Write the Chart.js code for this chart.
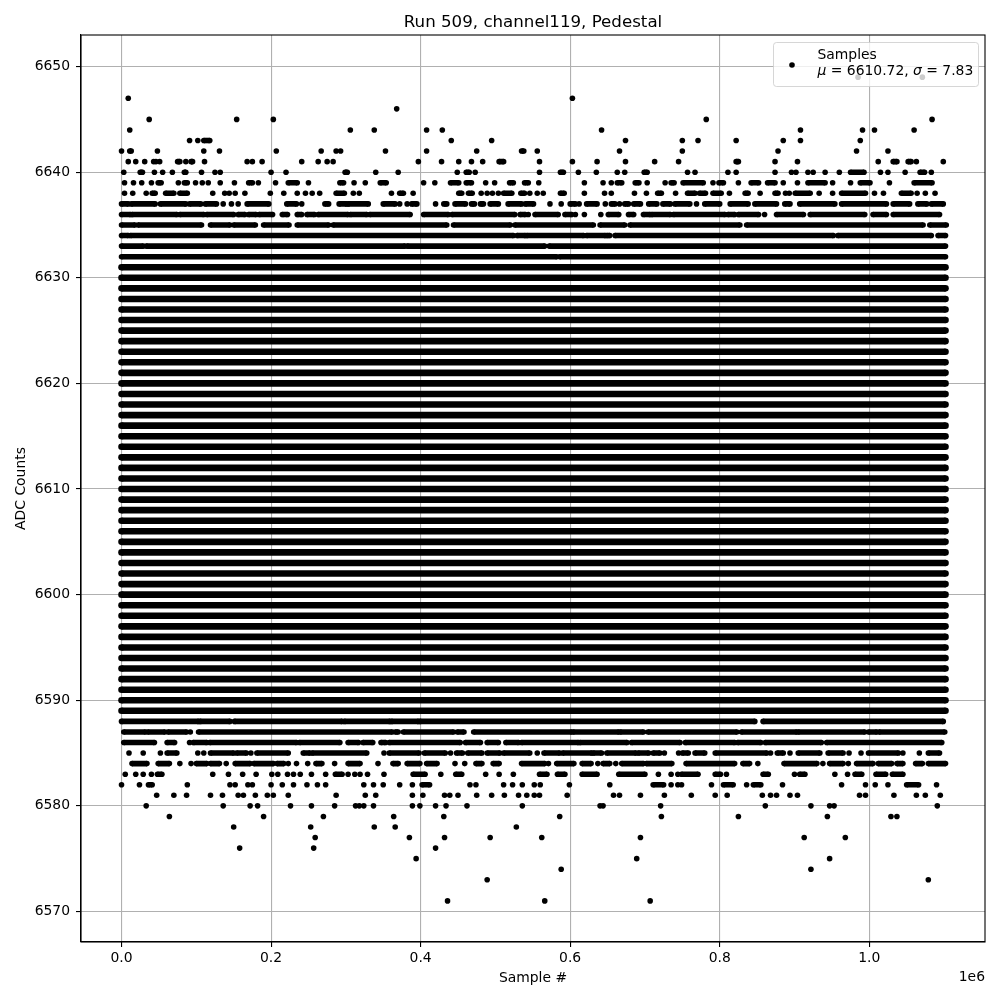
<!DOCTYPE html>
<html>
<head>
<meta charset="utf-8">
<title>Run 509, channel119, Pedestal</title>
<style>
    html, body { margin: 0; padding: 0; background: #fff; }
    canvas { display: block; }
</style>
<script src="https://cdn.jsdelivr.net/npm/chart.js@4/dist/chart.umd.min.js"></script>
</head>
<body>
<canvas id="pedestalChart" width="1000" height="1000"></canvas>
<script>
// a plain number is one point, a [start, end] pair is a run of touching points.
const yTicks = [6570, 6580, 6590, 6600, 6610, 6620, 6630, 6640, 6650];
const xTicks = [0, 200000, 400000, 600000, 800000, 1000000];
const legendLines = ['Samples', 'μ = 6610.72, σ = 7.83'];

const row6649 = [985, 1071];
const row6647 = [9, 603];
const row6646 = [368];
const row6645 = [37, 154, 203, 782, 1084];
const row6644 = [11, 306, 338, 408, 429, 642, 908, 991, 1007, 1060];
const row6643 = [91, 102, [110, 118], 441, 495, 674, 750, 771, 822, 885, 908, 988];
const row6642 = [0, [11, 13], 48, 110, 131, 207, 267, 287, 293, 353, 408, 475, [535, 538], 556, 666, 750, 878, 983, 1025];
const row6641 = [9, 19, 31, 43, 46, 51, [75, 78], 86, [93, 95], 111, 168, 175, 188, 241, 263, 275, 283, 397, 428, 451, 468, 483, [505, 511], 559, 603, 636, 674, 713, 745, [822, 825], 874, 904, 1012, [1032, 1037], [1052, 1056], 1063, 1099];
const row6640 = [3, [25, 28], 44, 55, 68, [84, 86], 107, 125, 132, 200, 220, [299, 302], 340, 370, 449, [461, 465], 473, 559, [587, 591], 611, 635, 663, 673, [699, 703], 757, 767, 811, 822, 874, 896, 902, 918, 925, 941, 960, [975, 993], 1015, 1025, 1048, [1068, 1074], 1083];
const row6639 = [4, 16, 27, 40, [49, 53], 76, [84, 88], 99, 108, 116, 132, 151, [170, 175], 183, 206, [223, 235], 250, [292, 297], 311, 326, [346, 354], 404, 419, [440, 451], [461, 468], 487, 499, [519, 524], [539, 544], 558, 619, 644, 655, [663, 669], [687, 692], 703, 727, [735, 739], [751, 778], 791, [799, 805], 825, [842, 852], [864, 874], 885, 904, [918, 941], 951, 975, [988, 1001], 1027, [1060, 1084]];
const row6638 = [4, 15, 33, [41, 45], [59, 70], [78, 88], 122, 138, 144, 152, 165, 199, 217, 235, 246, 255, 265, [287, 298], 310, 318, 361, [372, 377], 390, [451, 455], [464, 469], 481, 489, 496, 504, [511, 522], [534, 539], 546, 556, 564, [587, 592], 619, 646, 655, 686, 702, [717, 722], 741, [757, 767], [773, 781], [791, 802], 813, [834, 838], 854, [874, 878], 888, 893, [901, 921], 933, 951, [963, 995], 1007, 1019, [1043, 1056], 1064, 1075, 1088];
const row6637 = [[0, 9], [13, 45], [52, 86], [91, 106], [112, 127], 136, 147, 156, [168, 197], [221, 234], 241, [272, 277], [291, 301], [303, 330], [350, 366], 372, 382, [388, 395], 420, [431, 435], [446, 460], [468, 472], [480, 484], [493, 504], [517, 535], [540, 551], 573, 588, [600, 607], 612, [622, 636], 647, [655, 660], 666, [673, 678], [685, 694], [705, 716], [724, 734], [740, 760], 769, [780, 800], [814, 838], [847, 876], [887, 894], [907, 954], [963, 1023], [1032, 1054], [1065, 1077], [1083, 1099]];
const row6636 = [[0, 12], [14, 74], [78, 110], [114, 150], [156, 165], [170, 180], [184, 202], [215, 222], [235, 241], [248, 258], [263, 303], [306, 328], [332, 386], [404, 437], [442, 526], [533, 540], 544, [553, 584], [593, 602], 607, 619, 641, [651, 665], [678, 685], [698, 707], [709, 734], [738, 807], [811, 820], [825, 852], 860, [876, 912], [921, 994], [1005, 1023], [1032, 1094]];
const row6635 = [[0, 18], [22, 107], [119, 145], [150, 179], [190, 224], [235, 277], [283, 435], [444, 520], [526, 631], [640, 673], [680, 827], [836, 1072], [1081, 1103]];
const row6634 = [[0, 9], [12, 524], [529, 540], [542, 618], [622, 647], [649, 653], [660, 952], [958, 1083], [1092, 1102]];
const row6633 = [[0, 29], [33, 379], [382, 566], [572, 1102]];
const row6632 = [[0, 582], [586, 1102]];
const row6588 = [[0, 103], [105, 145], [151, 295], [298, 359], [361, 397], [399, 847], [858, 1099]];
const row6587 = [[3, 32], [35, 58], [62, 87], 92, [103, 362], [366, 370], [377, 444], [449, 458], [471, 602], [604, 665], [667, 698], [704, 823], [829, 903], [905, 994], [999, 1010], [1013, 1101]];
const row6586 = [[3, 44], [61, 71], 91, [96, 114], [118, 234], [238, 292], [303, 317], [323, 336], [347, 353], [358, 453], [460, 480], [489, 504], [514, 531], [535, 611], [613, 676], [682, 747], [754, 820], [824, 855], [861, 936], [943, 1097]];
const row6585 = [10, 29, 52, [61, 74], 102, 110, [119, 150], [154, 167], 173, [181, 223], [243, 252], [255, 328], 351, [358, 398], [405, 433], 440, [448, 456], [463, 482], [489, 506], [511, 546], 556, [565, 586], [590, 629], [631, 642], [649, 688], [691, 705], [711, 720], 726, 745, [750, 758], [767, 780], [794, 863], 868, [877, 885], 894, [905, 934], [945, 965], 973, 989, [999, 1039], 1045, 1067, [1079, 1094]];
const row6584 = [[14, 34], [49, 64], 78, 93, [100, 114], [119, 131], 140, [152, 172], [177, 203], [208, 217], 223, 234, 249, [260, 268], 285, [303, 319], 343, [363, 370], [382, 399], [408, 422], 446, 459, [474, 482], [497, 505], [535, 566], 571, [582, 605], [616, 628], 637, [644, 653], 661, [669, 698], [702, 736], [755, 820], [831, 840], 851, [886, 930], 938, [947, 965], 972, [983, 1005], [1012, 1030], [1037, 1045], [1062, 1071], [1079, 1102]];
const row6583 = [5, 19, 29, 40, [48, 54], 122, 143, 162, 180, 201, 209, 222, 230, 239, 254, 273, [286, 295], 303, 312, 319, 329, 351, [390, 406], 427, [447, 455], 487, 505, 524, [559, 569], [583, 593], [616, 636], [665, 700], 718, 735, 744, [749, 771], [794, 801], 809, [858, 865], 900, [907, 914], 954, 971, [981, 990], [1009, 1022], [1031, 1045]];
const row6582 = [0, 24, [36, 41], 88, 145, 152, 169, 175, 200, 215, 230, 248, 262, 273, 324, 337, 350, 372, 389, [402, 412], 466, 474, 511, 523, 536, 552, 560, 599, 653, [711, 725], 735, 744, 749, 789, [805, 818], 836, [845, 855], 884, 963, 995, 1008, 1025, [1050, 1066], 1090];
const row6581 = [47, 70, 87, 119, 135, 156, 163, 179, 195, 203, 223, 287, 326, 340, 389, 403, 432, 439, 450, 475, 495, 512, 531, 542, 552, 559, 596, 658, 666, 694, 726, 762, 794, 810, 857, 868, 876, 894, 904, 987, 995, 1033, 1063, 1075, 1095];
const row6580 = [33, 136, 172, 182, 226, 254, 285, 313, 318, 324, 337, 389, 399, 420, 434, 462, 536, 640, 644, 721, 861, 922, 947, 953, 1091];
const row6579 = [64, 190, 270, 364, 431, 586, 722, 825, 944, 1029, 1037];
const row6578 = [150, 253, 338, 366, 528];
const row6577 = [259, 385, 432, 493, 562, 694, 913, 968];
const row6576 = [158, 257, 420];
const row6575 = [394, 689, 947];
const row6574 = [588, 922];
const row6573 = [489, 1079];
const row6571 = [436, 566, 707];

// these rows run unbroken across the whole record
const solidLevels = [6589, 6590, 6591, 6592, 6593, 6594, 6595, 6596, 6597, 6598, 6599, 6600, 6601, 6602, 6603, 6604, 6605, 6606, 6607, 6608, 6609, 6610, 6611, 6612, 6613, 6614, 6615, 6616, 6617, 6618, 6619, 6620, 6621, 6622, 6623, 6624, 6625, 6626, 6627, 6628, 6629, 6630, 6631];
const solidRun = [[0, 1102]];

const brokenRows = [
    [6649, row6649], [6647, row6647], [6646, row6646], [6645, row6645], [6644, row6644],
    [6643, row6643], [6642, row6642], [6641, row6641], [6640, row6640], [6639, row6639],
    [6638, row6638], [6637, row6637], [6636, row6636], [6635, row6635], [6634, row6634],
    [6633, row6633], [6632, row6632], [6588, row6588], [6587, row6587], [6586, row6586],
    [6585, row6585], [6584, row6584], [6583, row6583], [6582, row6582], [6581, row6581],
    [6580, row6580], [6579, row6579], [6578, row6578], [6577, row6577], [6576, row6576],
    [6575, row6575], [6574, row6574], [6573, row6573], [6571, row6571]
];

function rowPoints(level, items) {
    const points = [];
    items.forEach(item => {
        const run = Array.isArray(item) ? item : [item];
        run.forEach(x => points.push({ x: x * 1000, y: level }));
        // null y breaks the line before the next run
        points.push({ x: run[run.length - 1] * 1000, y: null });
    });
    return points;
}

function rowDataset(level, items, thickness) {
    return {
        data: rowPoints(level, items),
        showLine: true,
        borderColor: '#000',
        borderWidth: thickness,
        backgroundColor: '#000',
        pointBackgroundColor: '#000',
        pointBorderWidth: 0,
        pointRadius: thickness / 2,
        pointHoverRadius: thickness / 2,
        spanGaps: false,
        tension: 0
    };
}

const datasets = brokenRows.map(row => rowDataset(row[0], row[1], 5.6))
    .concat(solidLevels.map(level => rowDataset(level, solidRun, 6.6)));

const fontFamily = '"DejaVu Sans"';

const figureParts = {
    id: 'figureParts',
    afterDatasetsDraw(chart) {
        const { ctx, chartArea } = chart;
        ctx.save();

        // legend box goes over the points, like the reference
        ctx.beginPath();
        ctx.roundRect(773.5, 42.5, 205, 44, 3);
        ctx.fillStyle = 'rgba(255,255,255,0.8)';
        ctx.fill();
        ctx.strokeStyle = 'rgba(204,204,204,0.8)';
        ctx.lineWidth = 1;
        ctx.stroke();

        ctx.fillStyle = '#000';
        ctx.beginPath();
        ctx.arc(792, 65, 2.8, 0, Math.PI * 2);
        ctx.fill();

        ctx.textBaseline = 'alphabetic';
        ctx.textAlign = 'left';
        ctx.font = '13.9px ' + fontFamily;
        ctx.fillText(legendLines[0], 817.5, 59);

        let textX = 817.5;
        legendLines[1].split(/([μσ])/).forEach(part => {
            ctx.font = (part === 'μ' || part === 'σ' ? 'italic ' : '') + '13.9px ' + fontFamily;
            ctx.fillText(part, textX, 75);
            textX += ctx.measureText(part).width;
        });

        ctx.font = '13.9px ' + fontFamily;
        ctx.textAlign = 'right';
        ctx.fillText('1e6', 985, 981);

        ctx.strokeStyle = '#000';
        ctx.lineWidth = 1.1;
        ctx.strokeRect(chartArea.left, chartArea.top, chartArea.right - chartArea.left, chartArea.bottom - chartArea.top);
        ctx.restore();
    }
};

new Chart(document.getElementById('pedestalChart').getContext('2d'), {
    type: 'scatter',
    data: { datasets },
    plugins: [figureParts],
    options: {
        responsive: false,
        animation: false,
        events: [],
        layout: { padding: { left: 0, right: 15, top: 0, bottom: 0 } },
        plugins: {
            legend: { display: false },
            tooltip: { enabled: false },
            title: {
                display: true,
                fullSize: false,
                text: 'Run 509, channel119, Pedestal',
                color: '#000',
                font: { family: fontFamily, size: 16.67, weight: 'normal' },
                padding: { top: 13, bottom: 2 }
            }
        },
        scales: {
            x: {
                type: 'linear',
                min: -54200,
                max: 1154800,
                afterFit(scale) { scale.height = 58; },
                afterBuildTicks(scale) { scale.ticks = xTicks.map(value => ({ value })); },
                grid: { color: '#b0b0b0', lineWidth: 1.1, tickColor: '#000', tickLength: 5 },
                border: { color: '#000', width: 1.1 },
                ticks: {
                    color: '#000',
                    padding: 3,
                    maxRotation: 0,
                    font: { family: fontFamily, size: 13.9 },
                    callback: value => (value / 1000000).toFixed(1)
                },
                title: {
                    display: true,
                    text: 'Sample #',
                    color: '#000',
                    font: { family: fontFamily, size: 13.9 },
                    padding: { top: 0, bottom: 13 }
                }
            },
            y: {
                type: 'linear',
                min: 6567.11,
                max: 6652.99,
                afterFit(scale) { scale.width = 81; },
                afterBuildTicks(scale) { scale.ticks = yTicks.map(value => ({ value })); },
                grid: { color: '#b0b0b0', lineWidth: 1.1, tickColor: '#000', tickLength: 5 },
                border: { color: '#000', width: 1.1 },
                ticks: {
                    color: '#000',
                    padding: 6,
                    font: { family: fontFamily, size: 13.9 },
                    callback: value => String(value)
                },
                title: {
                    display: true,
                    text: 'ADC Counts',
                    color: '#000',
                    font: { family: fontFamily, size: 13.9 },
                    padding: { top: 13, bottom: 0 }
                }
            }
        }
    }
});
</script>
</body>
</html>
